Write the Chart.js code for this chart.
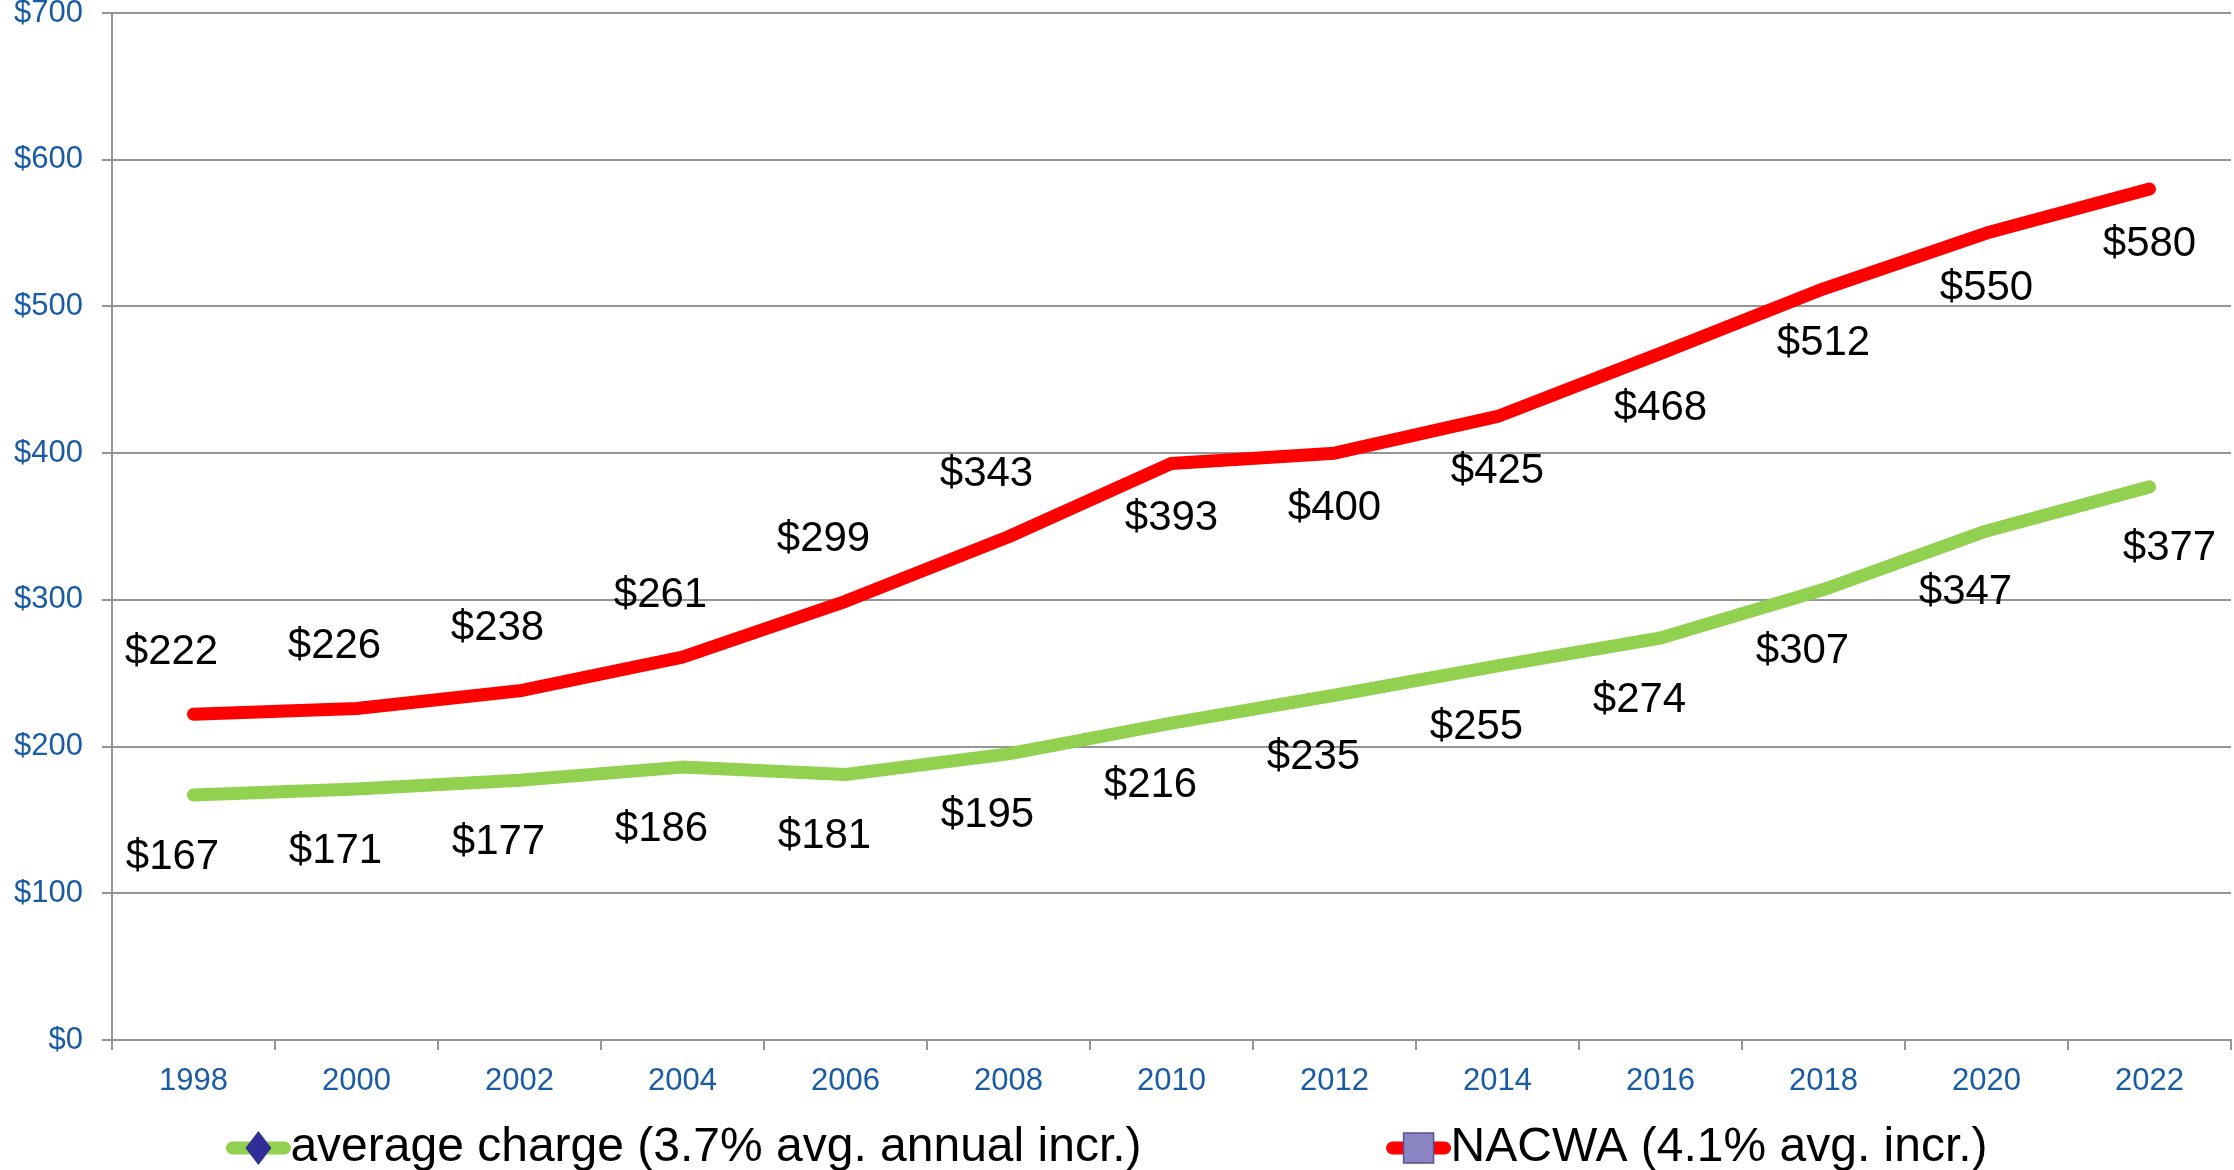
<!DOCTYPE html>
<html lang="en">
<head>
    <meta charset="UTF-8">
    <title>Average Charge vs NACWA</title>
    <script src="https://cdn.jsdelivr.net/npm/chart.js@4.4.1/dist/chart.umd.min.js"></script>
    <style>
        html, body { margin: 0; padding: 0; background: #fff; }
        #wrap { width: 2234px; height: 1170px; }
    </style>
</head>
<body>
    <div id="wrap"><canvas id="rateChart" width="2234" height="1170"></canvas></div>

    <script>
        const years = ['1998', '2000', '2002', '2004', '2006', '2008', '2010', '2012', '2014', '2016', '2018', '2020', '2022'];
        const averageCharge = [167, 171, 177, 186, 181, 195, 216, 235, 255, 274, 307, 347, 377];
        const nacwa = [222, 226, 238, 261, 299, 343, 393, 400, 425, 468, 512, 550, 580];
        const yTicks = [0, 100, 200, 300, 400, 500, 600, 700];

        const FONT = '"Liberation Sans", Arial, sans-serif';
        const GRID = '#959595';
        const TICK_BLUE = '#1a5ba6';

        // value labels next to each point
        const valueLabels = {
            id: 'valueLabels',
            afterDatasetsDraw(chart) {
                const ctx = chart.ctx;
                ctx.save();
                ctx.font = '42px ' + FONT;
                ctx.fillStyle = '#000';
                ctx.textAlign = 'center';
                ctx.textBaseline = 'middle';
                chart.data.datasets.forEach((ds, i) => {
                    const meta = chart.getDatasetMeta(i);
                    meta.data.forEach((pt, j) => {
                        const above = j < ds.labelsAbove;
                        let dx = above ? ds.aboveDx : ds.belowDx;
                        if (j === meta.data.length - 1 && ds.endDx !== undefined) dx = ds.endDx;
                        const dy = above ? ds.aboveDy : ds.belowDy;
                        ctx.fillText('$' + ds.data[j], pt.x + dx, pt.y + dy);
                    });
                });
                ctx.restore();
            }
        };

        // bottom legend in the old office style: line + marker, text right after
        const lineLegend = {
            id: 'lineLegend',
            afterDraw(chart) {
                const ctx = chart.ctx;
                const y = 1148;
                const symW = 64;
                const gap = 245;
                ctx.save();
                ctx.font = '48px ' + FONT;
                ctx.textBaseline = 'middle';
                const items = chart.data.datasets.map(ds => ({ ds, w: ctx.measureText(ds.label).width }));
                const total = items.reduce((s, it) => s + symW + it.w, 0) + gap * (items.length - 1);
                let x = (chart.width - total) / 2 - 10;
                items.forEach(({ ds, w }) => {
                    ctx.strokeStyle = ds.borderColor;
                    ctx.lineWidth = 13;
                    ctx.lineCap = 'round';
                    ctx.beginPath();
                    ctx.moveTo(x + 6, y);
                    ctx.lineTo(x + symW - 6, y);
                    ctx.stroke();
                    const cx = x + symW / 2;
                    if (ds.legendMarker === 'diamond') {
                        ctx.fillStyle = '#2e2e96';
                        ctx.beginPath();
                        ctx.moveTo(cx, y - 17);
                        ctx.lineTo(cx + 13, y);
                        ctx.lineTo(cx, y + 17);
                        ctx.lineTo(cx - 13, y);
                        ctx.closePath();
                        ctx.fill();
                    } else {
                        ctx.fillStyle = '#8a86c4';
                        ctx.fillRect(cx - 15, y - 15, 30, 30);
                        ctx.strokeStyle = '#55528a';
                        ctx.lineWidth = 1.5;
                        ctx.strokeRect(cx - 15, y - 15, 30, 30);
                    }
                    ctx.fillStyle = '#000';
                    ctx.textAlign = 'left';
                    ctx.fillText(ds.label, x + symW, y);
                    x += symW + w + gap;
                });
                ctx.restore();
            }
        };

        new Chart(document.getElementById('rateChart'), {
            type: 'line',
            data: {
                labels: years,
                datasets: [{
                    label: 'average charge (3.7% avg. annual incr.)',
                    data: averageCharge,
                    borderColor: '#92d050',
                    borderWidth: 13,
                    borderCapStyle: 'round',
                    borderJoinStyle: 'round',
                    pointRadius: 0,
                    tension: 0,
                    legendMarker: 'diamond',
                    labelsAbove: 0,
                    aboveDx: 0, aboveDy: -60,
                    belowDx: -21, belowDy: 62,
                    endDx: 20
                }, {
                    label: 'NACWA (4.1% avg. incr.)',
                    data: nacwa,
                    borderColor: '#ff0000',
                    borderWidth: 13,
                    borderCapStyle: 'round',
                    borderJoinStyle: 'round',
                    pointRadius: 0,
                    tension: 0,
                    legendMarker: 'square',
                    labelsAbove: 6,
                    aboveDx: -22, aboveDy: -62,
                    belowDx: 0, belowDy: 55
                }]
            },
            options: {
                responsive: false,
                animation: false,
                layout: { padding: { top: 13, right: 3, bottom: 70, left: 0 } },
                plugins: {
                    legend: { display: false },
                    tooltip: { enabled: false }
                },
                scales: {
                    x: {
                        offset: true,
                        grid: {
                            offset: true,
                            drawOnChartArea: false,
                            drawTicks: true,
                            tickLength: 10,
                            color: GRID,
                            lineWidth: 2
                        },
                        border: { display: true, color: GRID, width: 2 },
                        ticks: {
                            color: TICK_BLUE,
                            font: { family: FONT, size: 31 },
                            padding: 13,
                            maxRotation: 0
                        },
                        afterFit(scale) {
                            scale.height = 60;
                            scale.paddingLeft = 0;
                            scale.paddingRight = 0;
                        }
                    },
                    y: {
                        min: 0,
                        max: 700,
                        afterBuildTicks(scale) {
                            scale.ticks = yTicks.map(v => ({ value: v }));
                        },
                        grid: {
                            color: GRID,
                            lineWidth: 2,
                            drawTicks: true,
                            tickLength: 10
                        },
                        border: { display: true, color: GRID, width: 2 },
                        ticks: {
                            color: TICK_BLUE,
                            font: { family: FONT, size: 31 },
                            padding: 19,
                            callback: v => '$' + v
                        },
                        afterFit(scale) {
                            scale.width = 112;
                            scale.paddingTop = 0;
                            scale.paddingBottom = 0;
                        }
                    }
                }
            },
            plugins: [valueLabels, lineLegend]
        });
    </script>
</body>
</html>
